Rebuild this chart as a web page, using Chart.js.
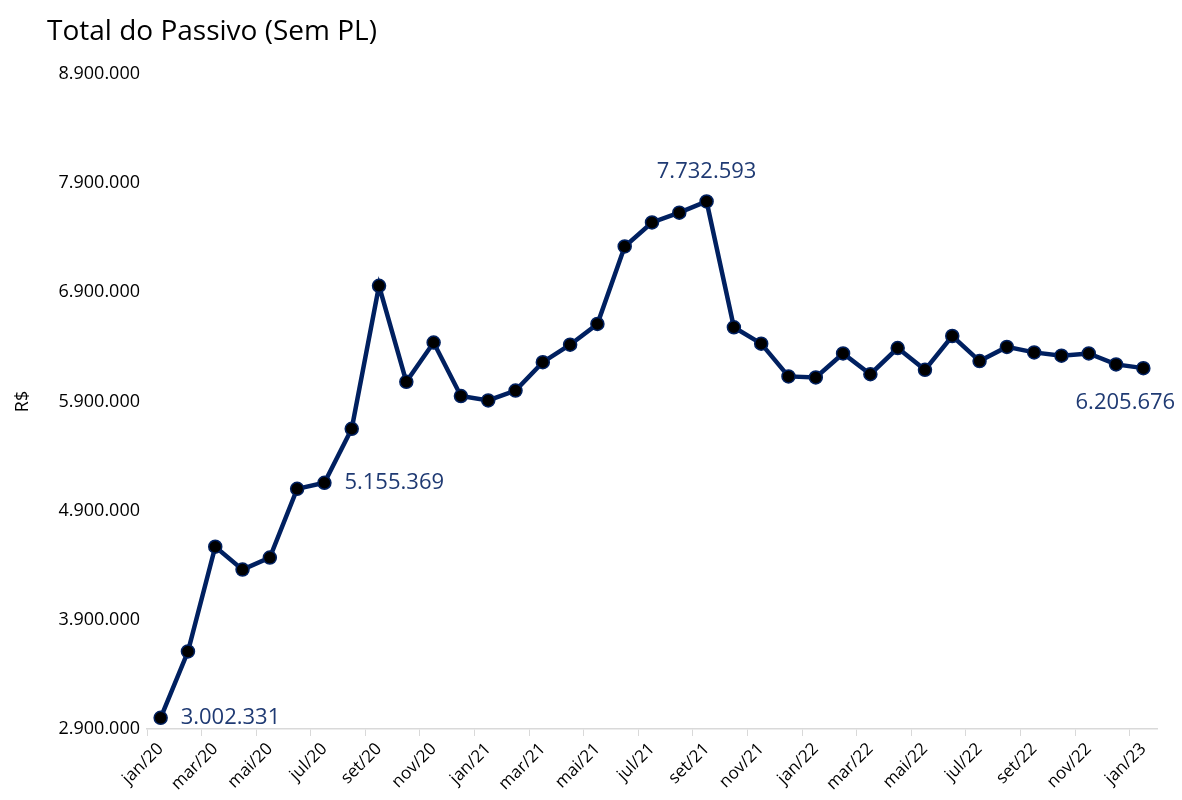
<!DOCTYPE html>
<html>
<head>
<meta charset="utf-8">
<script src="https://cdn.jsdelivr.net/npm/chart.js@4"></script>
<style>
  html, body { margin: 0; padding: 0; background: #fff; }
  #wrap { position: relative; width: 1182px; height: 800px; }
  #title { position: absolute; left: 47px; top: 10px; font-family: "Open Sans", sans-serif; font-size: 28px; color: #000; white-space: nowrap; }
</style>
</head>
<body>
<div id="wrap">
  <canvas id="chart" width="1182" height="800"></canvas>
  <div id="title">Total do Passivo (Sem PL)</div>
</div>
<script>
// meses de jan/20 a jan/23
const months = ['jan/20','fev/20','mar/20','abr/20','mai/20','jun/20','jul/20','ago/20','set/20','out/20','nov/20','dez/20',
                'jan/21','fev/21','mar/21','abr/21','mai/21','jun/21','jul/21','ago/21','set/21','out/21','nov/21','dez/21',
                'jan/22','fev/22','mar/22','abr/22','mai/22','jun/22','jul/22','ago/22','set/22','out/22','nov/22','dez/22',
                'jan/23'];

const passivo = [3002331, 3610000, 4570000, 4360000, 4470000, 5100000, 5155369, 5650000, 6960000, 6080000, 6440000, 5950000,
                 5910000, 6000000, 6260000, 6420000, 6610000, 7320000, 7540000, 7630000, 7732593, 6580000, 6430000, 6130000,
                 6120000, 6340000, 6150000, 6390000, 6190000, 6500000, 6270000, 6400000, 6350000, 6320000, 6340000, 6240000,
                 6205676];

const yTicks = [2900000, 3900000, 4900000, 5900000, 6900000, 7900000, 8900000];

// pontos com rótulo de valor
const labelled = [0, 6, 20, 36];

const fmt = v => String(Math.round(v)).replace(/\B(?=(\d{3})+(?!\d))/g, '.');

const valueLabels = {
    id: 'valueLabels',
    afterDatasetsDraw(chart) {
        const ctx = chart.ctx;
        const pts = chart.getDatasetMeta(0).data;
        ctx.save();
        ctx.font = '22px "Open Sans", sans-serif';
        ctx.fillStyle = '#1f3a73';
        ctx.textBaseline = 'middle';
        labelled.forEach(i => {
            const p = pts[i];
            const txt = fmt(passivo[i]);
            if (i === 0 || i === 6) {
                ctx.textAlign = 'left';
                ctx.fillText(txt, p.x + 20, p.y);
            } else if (i === 20) {
                ctx.textAlign = 'center';
                ctx.fillText(txt, p.x, p.y - 30);
            } else {
                ctx.textAlign = 'center';
                ctx.fillText(txt, p.x - 18, p.y + 35);
            }
        });
        ctx.restore();
    }
};

new Chart(document.getElementById('chart'), {
    type: 'line',
    data: {
        labels: months,
        datasets: [{
            data: passivo,
            borderColor: '#002060',
            borderWidth: 4.5,
            pointRadius: 6.5,
            pointBackgroundColor: '#000',
            pointBorderColor: '#002060',
            pointBorderWidth: 1.5,
            tension: 0,
            fill: false
        }]
    },
    options: {
        responsive: false,
        animation: false,
        layout: { padding: { top: 74, left: 8, right: 25, bottom: 0 } },
        plugins: {
            legend: { display: false },
            tooltip: { enabled: false }
        },
        scales: {
            x: {
                offset: true,
                afterFit: a => { a.height = 71; },
                grid: {
                    offset: true,
                    drawOnChartArea: false,
                    tickLength: 7,
                    color: c => c.index % 2 === 0 ? '#d9d9d9' : 'rgba(0,0,0,0)'
                },
                border: { display: true, color: '#d9d9d9', width: 1.5 },
                ticks: {
                    autoSkip: false,
                    maxRotation: 45,
                    minRotation: 45,
                    color: '#000',
                    font: { family: '"Open Sans", sans-serif', size: 17 },
                    callback: (v, i) => i % 2 === 0 ? months[i] : ''
                }
            },
            y: {
                min: 2900000,
                max: 8900000,
                afterBuildTicks: axis => { axis.ticks = yTicks.map(v => ({ value: v })); },
                afterFit: a => { a.width = 139; },
                grid: { display: false, drawTicks: false },
                border: { display: false },
                title: {
                    display: true,
                    text: 'R$',
                    color: '#000',
                    font: { family: '"Open Sans", sans-serif', size: 18 }
                },
                ticks: {
                    color: '#000',
                    padding: 7,
                    font: { family: '"Open Sans", sans-serif', size: 18 },
                    callback: v => fmt(v)
                }
            }
        }
    },
    plugins: [valueLabels]
});
</script>
</body>
</html>
